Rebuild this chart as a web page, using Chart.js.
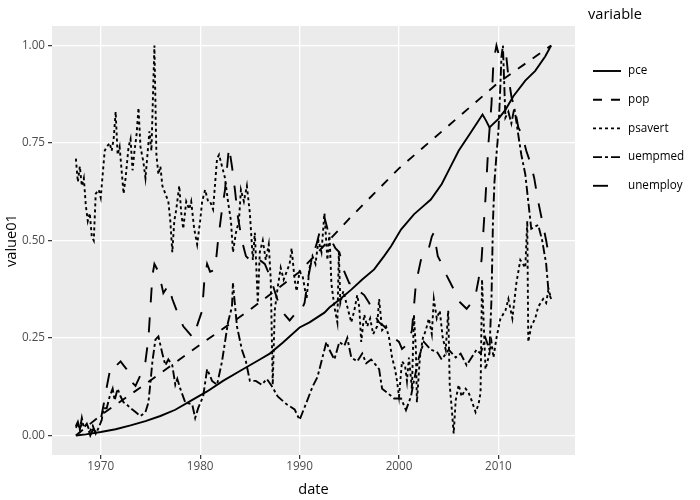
<!DOCTYPE html>
<html>
<head>
<meta charset="utf-8">
<script src="https://cdn.jsdelivr.net/npm/chart.js@4"></script>
<style>
  html, body { margin: 0; padding: 0; background: #ffffff; }
  #wrap { width: 700px; height: 500px; }
</style>
</head>
<body>
<div id="wrap"><canvas id="chart" width="700" height="500"></canvas></div>
<script>
// economics_long, value01 by date
const seriesNames = ['pce', 'pop', 'psavert', 'uempmed', 'unemploy'];
const xTicks = [1970, 1980, 1990, 2000, 2010];
const yTicks = [0, 0.25, 0.5, 0.75, 1];

const pceYears = [1967.5, 1968.5, 1970, 1971.5, 1973, 1974.5, 1976, 1977.5, 1979, 1980.7, 1982.3, 1984.3, 1986, 1987,
  1988.3, 1990, 1991, 1992.5, 1993, 1994, 1995.2, 1996.3, 1997.5, 1998.5, 1999.2, 2000.2, 2001.5, 2002.3, 2003.2,
  2004.3, 2005.2, 2006, 2007.3, 2008.4, 2008.7, 2009.1, 2010, 2010.7, 2011.5, 2012.7, 2013.7, 2014.7, 2015.3];
const pceValues = [0, 0.003, 0.009, 0.016, 0.026, 0.037, 0.05, 0.066, 0.088, 0.113, 0.14, 0.17, 0.195, 0.21,
  0.238, 0.277, 0.29, 0.315, 0.328, 0.348, 0.374, 0.4, 0.426, 0.46, 0.485, 0.528, 0.567, 0.585, 0.605,
  0.645, 0.69, 0.73, 0.78, 0.823, 0.81, 0.79, 0.812, 0.835, 0.87, 0.91, 0.935, 0.972, 1.0];

const popYears = [1967.5, 1970, 1975, 1980, 1985, 1990, 1995, 2000, 2005, 2010, 2015.3];
const popValues = [0, 0.052, 0.141, 0.233, 0.322, 0.42, 0.556, 0.685, 0.795, 0.905, 1];

const psavertYears = [1967.5, 1967.7, 1967.9, 1968.1, 1968.3, 1968.5, 1968.7, 1968.9, 1969.1, 1969.3, 1969.5, 1969.8,
  1970.0, 1970.2, 1970.4, 1970.6, 1970.9, 1971.1, 1971.3, 1971.5, 1971.7, 1971.9, 1972.1, 1972.3, 1972.5, 1972.8,
  1973.0, 1973.2, 1973.4, 1973.6, 1973.8, 1974.0, 1974.3, 1974.5, 1974.7, 1974.9, 1975.1, 1975.4, 1975.6, 1975.8,
  1976.0, 1976.2, 1976.5, 1976.8, 1977.0, 1977.2, 1977.4, 1977.6, 1977.9, 1978.1, 1978.3, 1978.6, 1978.9, 1979.1,
  1979.4, 1979.7, 1980.0, 1980.2, 1980.5, 1980.8, 1981.0, 1981.3, 1981.7, 1981.9, 1982.2, 1982.5, 1982.8, 1983.1,
  1983.3, 1983.6, 1983.9, 1984.1, 1984.4, 1984.7, 1985.0, 1985.3, 1985.5, 1985.8, 1986.0, 1986.3, 1986.6, 1986.9,
  1987.1, 1987.3, 1987.5, 1987.8, 1988.1, 1988.4, 1988.7, 1989.0, 1989.2, 1989.5, 1989.7, 1990.0, 1990.3, 1990.7,
  1991.0, 1991.3, 1991.6, 1991.9, 1992.2, 1992.5, 1992.8, 1993.0, 1993.2, 1993.5, 1993.8, 1993.95, 1994.1, 1994.4,
  1994.8, 1995.2, 1995.5, 1995.8, 1996.0, 1996.2, 1996.5, 1996.8, 1997.1, 1997.4, 1997.8, 1998.0, 1998.3, 1998.7,
  1999.0, 1999.3, 1999.6, 1999.8, 2000.0, 2000.3, 2000.6, 2000.8, 2001.0, 2001.3, 2001.5, 2001.7, 2001.8, 2002.1,
  2002.4, 2002.7, 2003.0, 2003.3, 2003.5, 2003.8, 2004.1, 2004.4, 2004.7, 2004.95, 2005.1, 2005.3, 2005.5, 2005.7,
  2006.0, 2006.3, 2006.7, 2007.0, 2007.3, 2007.7, 2008.0, 2008.2, 2008.35, 2008.5, 2008.7, 2009.0, 2009.3, 2009.5,
  2009.8, 2010.2, 2010.7, 2011.0, 2011.4, 2011.8, 2012.2, 2012.7, 2012.9, 2013.0, 2013.3, 2013.7, 2014.0, 2014.5,
  2014.8, 2015.0, 2015.3];
const psavertValues = [0.71, 0.65, 0.69, 0.64, 0.66, 0.59, 0.55, 0.57, 0.51, 0.5, 0.62, 0.63,
  0.61, 0.67, 0.73, 0.74, 0.75, 0.73, 0.76, 0.83, 0.72, 0.74, 0.68, 0.62, 0.66, 0.74,
  0.76, 0.68, 0.73, 0.77, 0.84, 0.74, 0.7, 0.66, 0.72, 0.78, 0.73, 1.0, 0.72, 0.67,
  0.69, 0.64, 0.62, 0.6, 0.55, 0.47, 0.55, 0.58, 0.64, 0.57, 0.53, 0.6, 0.58, 0.6,
  0.53, 0.49, 0.55, 0.6, 0.63, 0.6, 0.6, 0.58, 0.71, 0.72, 0.69, 0.66, 0.6, 0.55,
  0.47, 0.52, 0.55, 0.63, 0.6, 0.64, 0.57, 0.45, 0.52, 0.34, 0.47, 0.5, 0.45, 0.49,
  0.4, 0.13, 0.32, 0.38, 0.43, 0.4, 0.42, 0.44, 0.48, 0.4, 0.37, 0.42, 0.41, 0.35,
  0.43, 0.46, 0.44, 0.5, 0.47, 0.57, 0.45, 0.52, 0.39, 0.33, 0.29, 0.47, 0.34, 0.37,
  0.33, 0.29, 0.32, 0.36, 0.33, 0.24, 0.31, 0.28, 0.3, 0.26, 0.28, 0.35, 0.27, 0.28,
  0.25, 0.2, 0.17, 0.14, 0.1, 0.19, 0.18, 0.14, 0.2, 0.12, 0.31, 0.22, 0.085, 0.2,
  0.25, 0.27, 0.3, 0.26, 0.35, 0.3, 0.32, 0.25, 0.22, 0.32, 0.13, 0.07, 0.005, 0.09,
  0.13, 0.1, 0.12, 0.11, 0.09, 0.06, 0.08, 0.11, 0.4, 0.3, 0.17, 0.2, 0.24, 0.2,
  0.25, 0.3, 0.32, 0.35, 0.3, 0.39, 0.45, 0.43, 0.55, 0.24, 0.28, 0.3, 0.33, 0.35,
  0.34, 0.37, 0.35];

const uempmedYears = [1967.5, 1967.7, 1967.9, 1968.1, 1968.3, 1968.6, 1968.9, 1969.2, 1969.5, 1969.8, 1970.1, 1970.3,
  1970.6, 1970.9, 1971.2, 1971.4, 1971.7, 1972.0, 1972.3, 1972.6, 1973.0, 1973.5, 1974.0, 1974.5, 1974.8, 1975.0,
  1975.2, 1975.5, 1975.8, 1976.2, 1976.5, 1976.8, 1977.2, 1977.5, 1977.7, 1978.0, 1978.5, 1979.2, 1979.5, 1979.8,
  1980.3, 1980.7, 1981.2, 1981.7, 1982.2, 1982.5, 1982.8, 1983.2, 1983.3, 1983.7, 1984.2, 1984.6, 1985.0, 1985.6,
  1986.2, 1986.7, 1987.2, 1987.8, 1988.7, 1989.5, 1990.0, 1990.7, 1991.3, 1991.8, 1992.3, 1992.7, 1993.0, 1993.5,
  1994.0, 1994.5, 1994.8, 1995.2, 1995.8, 1996.3, 1996.7, 1997.2, 1997.7, 1998.0, 1998.3, 1998.8, 1999.5, 2000.2,
  2000.7, 2001.2, 2001.5, 2002.0, 2002.5, 2003.2, 2003.8, 2004.3, 2005.0, 2005.7, 2006.2, 2006.8, 2007.3, 2007.8,
  2008.2, 2008.7, 2009.1, 2009.3, 2009.45, 2009.6, 2009.8, 2010.0, 2010.2, 2010.3, 2010.45, 2010.7, 2011.0, 2011.3,
  2011.6, 2012.0, 2012.3, 2012.7, 2013.0, 2013.3, 2014.0, 2014.4, 2014.8, 2015.0, 2015.3];
const uempmedValues = [0.024, 0.035, 0.015, 0.045, 0.02, 0.03, 0.01, 0.025, 0.005, 0.02, 0.04, 0.07,
  0.07, 0.1, 0.12, 0.09, 0.12, 0.1, 0.085, 0.08, 0.07, 0.06, 0.05, 0.06, 0.085, 0.136,
  0.19, 0.246, 0.254, 0.21, 0.18, 0.195, 0.18, 0.13, 0.145, 0.12, 0.085, 0.08, 0.045, 0.07,
  0.1, 0.17, 0.14, 0.13, 0.19, 0.24, 0.29, 0.33, 0.39, 0.28, 0.22, 0.19, 0.14, 0.14,
  0.13, 0.145, 0.127, 0.1, 0.08, 0.067, 0.04, 0.085, 0.125, 0.15, 0.2, 0.24, 0.22, 0.195,
  0.24, 0.23, 0.25, 0.2, 0.19, 0.21, 0.185, 0.195, 0.18, 0.17, 0.12, 0.11, 0.095, 0.095,
  0.065, 0.1, 0.14, 0.2, 0.24, 0.22, 0.215, 0.195, 0.22, 0.2, 0.21, 0.18, 0.2, 0.22,
  0.21, 0.25, 0.22, 0.35, 0.55, 0.65, 0.72, 0.78, 0.9, 0.97, 1.0, 0.815, 0.83, 0.8,
  0.84, 0.77, 0.72, 0.67, 0.6, 0.53, 0.54, 0.5, 0.44, 0.38, 0.35];

const unemployYears = [1967.5, 1967.7, 1967.9, 1968.1, 1968.4, 1968.7, 1968.95, 1969.2, 1969.5, 1969.8, 1970.0, 1970.3,
  1970.5, 1970.8, 1971.0, 1971.3, 1971.6, 1972.0, 1972.3, 1972.6, 1973.0, 1973.5, 1974.0, 1974.5, 1974.8, 1975.0,
  1975.2, 1975.4, 1975.8, 1976.0, 1976.3, 1976.8, 1977.2, 1977.5, 1977.8, 1978.3, 1978.8, 1979.3, 1979.8, 1980.2,
  1980.4, 1980.7, 1981.0, 1981.5, 1981.8, 1982.2, 1982.5, 1982.9, 1983.2, 1983.5, 1983.8, 1984.2, 1984.6, 1985.0,
  1985.5, 1986.0, 1986.5, 1987.0, 1987.5, 1988.0, 1988.5, 1989.0, 1989.5, 1990.0, 1990.5, 1990.9, 1991.3, 1991.7,
  1992.0, 1992.5, 1992.8, 1993.2, 1993.6, 1994.0, 1994.5, 1995.0, 1995.5, 1996.0, 1996.5, 1997.0, 1997.5, 1998.0,
  1998.5, 1999.0, 1999.5, 2000.0, 2000.3, 2000.9, 2001.3, 2001.7, 2002.2, 2002.8, 2003.3, 2003.5, 2003.9, 2004.3,
  2004.8, 2005.5, 2006.0, 2006.8, 2007.3, 2007.7, 2008.0, 2008.3, 2008.5, 2008.7, 2009.0, 2009.3, 2009.5, 2009.8,
  2010.1, 2010.5, 2010.8, 2011.0, 2011.3, 2011.7, 2012.0, 2012.4, 2012.8, 2013.2, 2013.6, 2014.0, 2014.4, 2014.8,
  2015.0, 2015.3];
const unemployValues = [0.02, 0.03, 0.018, 0.03, 0.012, 0.02, 0.0, 0.015, 0.01, 0.03, 0.04, 0.08,
  0.11, 0.15, 0.175, 0.185, 0.18, 0.19, 0.18, 0.17, 0.14, 0.127, 0.155, 0.19, 0.25, 0.33,
  0.41, 0.44, 0.42, 0.4, 0.365, 0.385, 0.35, 0.33, 0.31, 0.28, 0.265, 0.25, 0.29, 0.32,
  0.39, 0.44, 0.42, 0.425, 0.5, 0.58, 0.63, 0.74, 0.69, 0.63, 0.56, 0.5, 0.46, 0.45,
  0.44, 0.45, 0.44, 0.41, 0.37, 0.33, 0.31, 0.295, 0.31, 0.31, 0.34, 0.41, 0.46, 0.49,
  0.52, 0.56, 0.53, 0.5, 0.48, 0.47, 0.42, 0.39, 0.39, 0.37, 0.36, 0.34, 0.31, 0.29,
  0.28, 0.265, 0.25, 0.24, 0.222, 0.235, 0.27, 0.39, 0.45, 0.46, 0.51, 0.52, 0.46, 0.44,
  0.41, 0.375, 0.345, 0.325, 0.34, 0.36, 0.4, 0.45, 0.53, 0.61, 0.75, 0.85, 0.96, 1.0,
  0.97, 0.96, 0.97, 0.92, 0.87, 0.83, 0.79, 0.77, 0.73, 0.7, 0.66, 0.6, 0.55, 0.5,
  0.47, 0.455];

// plotly-like dash patterns for the ggplot linetypes
const dashes = {
  pce: [],
  pop: [9, 9],
  psavert: [3, 3],
  uempmed: [9, 3, 3, 3],
  unemploy: [15, 15]
};

function toPoints(xs, ys) {
  return xs.map((x, i) => ({ x: x, y: ys[i] }));
}

const seriesData = {
  pce: toPoints(pceYears, pceValues),
  pop: toPoints(popYears, popValues),
  psavert: toPoints(psavertYears, psavertValues),
  uempmed: toPoints(uempmedYears, uempmedValues),
  unemploy: toPoints(unemployYears, unemployValues)
};

const fontFamily = '"Open Sans", verdana, arial, sans-serif';

// grey panel behind the plot
const panelBg = {
  id: 'panelBg',
  beforeDraw(chart) {
    const { ctx, chartArea: a } = chart;
    ctx.save();
    ctx.fillStyle = '#EBEBEB';
    ctx.fillRect(a.left, a.top, a.right - a.left, a.bottom - a.top);
    ctx.restore();
  }
};

// legend drawn like the plotly one (title + line samples)
const sideLegend = {
  id: 'sideLegend',
  afterDraw(chart) {
    const ctx = chart.ctx;
    ctx.save();
    ctx.fillStyle = '#000000';
    ctx.textBaseline = 'middle';
    ctx.textAlign = 'left';
    ctx.font = '14.6px ' + fontFamily;
    ctx.fillText('variable', 588, 15);
    ctx.font = '11.7px ' + fontFamily;
    chart.data.datasets.forEach((ds, i) => {
      const y = 71 + i * 28.7;
      ctx.strokeStyle = '#000000';
      ctx.lineWidth = 1.9;
      ctx.setLineDash(ds.borderDash || []);
      ctx.beginPath();
      ctx.moveTo(593, y);
      ctx.lineTo(621, y);
      ctx.stroke();
      ctx.setLineDash([]);
      ctx.fillText(ds.label, 628, y);
    });
    ctx.restore();
  }
};

new Chart(document.getElementById('chart'), {
  type: 'line',
  data: {
    datasets: seriesNames.map(name => ({
      label: name,
      data: seriesData[name],
      borderColor: '#000000',
      borderWidth: 1.9,
      borderDash: dashes[name],
      pointRadius: 0,
      fill: false,
      tension: 0
    }))
  },
  options: {
    responsive: false,
    animation: false,
    layout: { padding: { left: 0, right: 125, top: 26, bottom: 0 } },
    plugins: {
      legend: { display: false },
      tooltip: { enabled: false }
    },
    scales: {
      x: {
        type: 'linear',
        min: 1965.1,
        max: 2017.7,
        afterBuildTicks: s => { s.ticks = xTicks.map(v => ({ value: v })); },
        afterFit: s => { s.height = 45; },
        grid: { color: '#ffffff', lineWidth: 1.3, tickColor: '#333333', tickLength: 4, tickWidth: 1.2 },
        border: { display: false },
        ticks: {
          color: '#4d4d4d',
          padding: 1,
          maxRotation: 0,
          font: { size: 11.7, family: fontFamily },
          callback: v => String(v)
        },
        title: {
          display: true,
          text: 'date',
          color: '#000000',
          padding: { top: 0, bottom: 1.2 },
          font: { size: 14.6, family: fontFamily }
        }
      },
      y: {
        min: -0.05,
        max: 1.05,
        afterBuildTicks: s => { s.ticks = yTicks.map(v => ({ value: v })); },
        afterFit: s => { s.width = 52; },
        grid: { color: '#ffffff', lineWidth: 1.3, tickColor: '#333333', tickLength: 4, tickWidth: 1.2 },
        border: { display: false },
        ticks: {
          color: '#4d4d4d',
          padding: 3,
          font: { size: 11.7, family: fontFamily },
          callback: v => Number(v).toFixed(2)
        },
        title: {
          display: true,
          text: 'value01',
          color: '#000000',
          padding: { top: 3, bottom: 0 },
          font: { size: 14.6, family: fontFamily }
        }
      }
    }
  },
  plugins: [panelBg, sideLegend]
});
</script>
</body>
</html>
